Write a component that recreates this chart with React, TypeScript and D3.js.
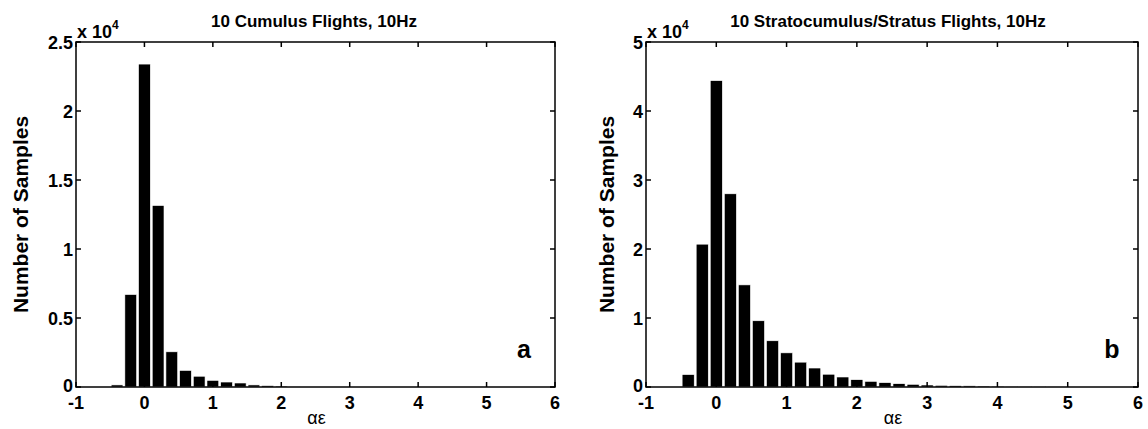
import React, { useEffect, useRef } from "react";
import * as d3 from "d3";

// bin centres (same for both panels), width 0.2
const binWidth = 0.2;
const cumulusBins = [-0.4, -0.2, 0, 0.2, 0.4, 0.6, 0.8, 1.0, 1.2, 1.4, 1.6, 1.8, 2.0, 2.2];
const cumulusCounts = [150, 6700, 23400, 13150, 2550, 1200, 780, 480, 360, 290, 150, 100, 70, 40];

const stratusBins = [
  -0.4, -0.2, 0, 0.2, 0.4, 0.6, 0.8, 1.0, 1.2, 1.4, 1.6, 1.8, 2.0, 2.2, 2.4, 2.6,
  2.8, 3.0, 3.2, 3.4, 3.6, 3.8, 4.0, 4.2, 4.4, 4.6, 4.8,
];
const stratusCounts = [
  1800, 20700, 44400, 28000, 14800, 9600, 6700, 4950, 3600, 2750, 1850, 1450, 1060, 820, 630, 480,
  390, 290, 240, 190, 170, 140, 120, 100, 90, 80, 60,
];

const xTicks = [-1, 0, 1, 2, 3, 4, 5, 6];
const cumulusYTicks = [0, 0.5, 1, 1.5, 2, 2.5];
const stratusYTicks = [0, 1, 2, 3, 4, 5];

const font = "'Liberation Sans', Arial, sans-serif";

type Panel = {
  title: string;
  titleX: number;
  letter: string;
  letterX: number;
  bins: number[];
  counts: number[];
  yTicks: number[];
  yMax: number;
  left: number;
  right: number;
  ylabelX: number;
};

const panels: Panel[] = [
  {
    title: "10 Cumulus Flights, 10Hz",
    titleX: 314,
    letter: "a",
    letterX: 524,
    bins: cumulusBins,
    counts: cumulusCounts,
    yTicks: cumulusYTicks,
    yMax: 25000,
    left: 76,
    right: 555,
    ylabelX: 28,
  },
  {
    title: "10 Stratocumulus/Stratus Flights, 10Hz",
    titleX: 888,
    letter: "b",
    letterX: 1112,
    bins: stratusBins,
    counts: stratusCounts,
    yTicks: stratusYTicks,
    yMax: 50000,
    left: 646,
    right: 1138,
    ylabelX: 614,
  },
];

const App = () => {
  const svgRef = useRef<SVGSVGElement | null>(null);

  useEffect(() => {
    const svg = d3.select(svgRef.current);
    svg.selectAll("*").remove();
    const top = 42;
    const bottom = 387;

    panels.forEach((p) => {
      const x = d3.scaleLinear().domain([-1, 6]).range([p.left, p.right]);
      const y = d3.scaleLinear().domain([0, p.yMax]).range([bottom, top]);
      const g = svg.append("g");

      // bars
      const bw = (x(binWidth) - x(0)) * 0.86;
      g.selectAll("rect.bar")
        .data(p.bins)
        .join("rect")
        .attr("x", (d) => x(d) - bw / 2)
        .attr("y", (_, i) => y(p.counts[i]))
        .attr("width", bw)
        .attr("height", (_, i) => bottom - y(p.counts[i]))
        .attr("fill", "#000")
        .attr("stroke", "#fff")
        .attr("stroke-width", 0.6);

      // box
      g.append("rect")
        .attr("x", p.left)
        .attr("y", top)
        .attr("width", p.right - p.left)
        .attr("height", bottom - top)
        .attr("fill", "none")
        .attr("stroke", "#000")
        .attr("stroke-width", 1.5);

      const tl = 5;
      // x ticks (inward, top and bottom)
      xTicks.forEach((t) => {
        g.append("line").attr("x1", x(t)).attr("x2", x(t)).attr("y1", bottom).attr("y2", bottom - tl)
          .attr("stroke", "#000").attr("stroke-width", 1.5);
        g.append("line").attr("x1", x(t)).attr("x2", x(t)).attr("y1", top).attr("y2", top + tl)
          .attr("stroke", "#000").attr("stroke-width", 1.5);
        g.append("text").attr("x", x(t)).attr("y", bottom + 22).attr("text-anchor", "middle")
          .attr("font-family", font).attr("font-weight", "bold").attr("font-size", 18)
          .text(t < 0 ? "-" + Math.abs(t) : String(t));
      });
      // y ticks (inward, left and right)
      p.yTicks.forEach((t) => {
        const yy = y(t * 10000);
        g.append("line").attr("x1", p.left).attr("x2", p.left + tl).attr("y1", yy).attr("y2", yy)
          .attr("stroke", "#000").attr("stroke-width", 1.5);
        g.append("line").attr("x1", p.right).attr("x2", p.right - tl).attr("y1", yy).attr("y2", yy)
          .attr("stroke", "#000").attr("stroke-width", 1.5);
        g.append("text").attr("x", p.left - 3).attr("y", yy + (t === 0 ? 5 : 6.5)).attr("text-anchor", "end")
          .attr("font-family", font).attr("font-weight", "bold").attr("font-size", 18)
          .text(String(t));
      });

      // exponent label
      const ex = g.append("text").attr("x", p.left + 1).attr("y", top - 4)
        .attr("font-family", font).attr("font-weight", "bold").attr("font-size", 18);
      ex.append("tspan").text("x 10");
      ex.append("tspan").attr("dy", -9).attr("font-size", 12).text("4");

      // title
      g.append("text").attr("x", p.titleX).attr("y", 27).attr("text-anchor", "middle")
        .attr("font-family", font).attr("font-weight", "bold").attr("font-size", 17)
        .text(p.title);

      // y label
      g.append("text")
        .attr("transform", `translate(${p.ylabelX},${(top + bottom) / 2}) rotate(-90)`)
        .attr("text-anchor", "middle")
        .attr("font-family", font).attr("font-weight", "bold").attr("font-size", 21)
        .text("Number of Samples");

      // x label
      g.append("text").attr("x", (p.left + p.right) / 2 + 1).attr("y", 424).attr("text-anchor", "middle")
        .attr("font-family", font).attr("font-size", 18)
        .text("αε");

      // panel letter
      g.append("text").attr("x", p.letterX).attr("y", 358).attr("text-anchor", "middle")
        .attr("font-family", font).attr("font-weight", "bold").attr("font-size", 25)
        .text(p.letter);
    });
  }, []);

  return (
    <svg
      ref={svgRef}
      width={1148}
      height={429}
      style={{ position: "absolute", left: 0, top: 0, background: "#fff" }}
    />
  );
};

export default App;
